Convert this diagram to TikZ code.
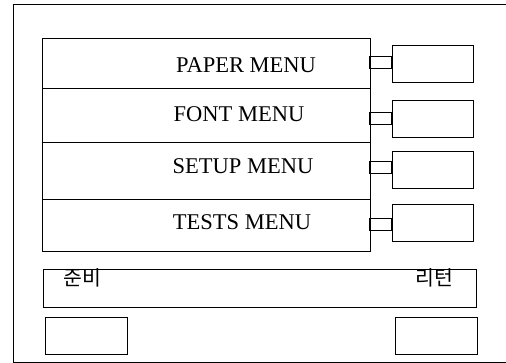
\documentclass[tikz,border=0pt]{standalone}
\usepackage{fontspec}
\setmainfont{Liberation Serif}
\newfontfamily\kofont{Noto Sans CJK KR}
\usetikzlibrary{positioning, calc}

\begin{document}
\begin{tikzpicture}[x=1pt, y=-1pt, line width=0.8pt,
    every node/.style={inner sep=0pt},
    rowbox/.style={draw, minimum width=328pt},
    sidebox/.style={draw, minimum width=81pt, minimum height=37pt},
    menutext/.style={font=\fontsize{22.5}{26}\selectfont},
    kotext/.style={font=\kofont\fontsize{20.5}{24}\selectfont}]
  \useasboundingbox (0,0) rectangle (506,363);

  %% Screen frame (open to the right)
  \draw (506,4) -- (13,4) -- (13,362) -- (506,362);

  %% Menu rows
  \node[rowbox, minimum height=50pt] (paper) at (206,63) {};
  \node[rowbox, minimum height=54pt] (fontrow) at (206,115) {};
  \node[rowbox, minimum height=57pt] (setup) at (206,170.5) {};
  \node[rowbox, minimum height=52pt] (tests) at (206,225) {};
  \node[menutext] (papertxt) at (246,65) {PAPER MENU};
  \node[menutext] (fonttxt) at (239,114) {FONT MENU};
  \node[menutext] (setuptxt) at (243,166) {SETUP MENU};
  \node[menutext] (teststxt) at (242,222) {TESTS MENU};

  %% Side boxes
  \node[sidebox] (paperbox) at (432.5,64) {};
  \node[sidebox] (fontbox) at (432.5,118.5) {};
  \node[sidebox] (setupbox) at (432.5,170) {};
  \node[sidebox] (testsbox) at (432.5,223) {};

  %% Connectors
  \foreach \b/\dy in {paperbox/-2, fontbox/0, setupbox/-3, testsbox/1}{
    \draw ($(\b.west)+(-22,\dy-6)$) rectangle ($(\b.west)+(0,\dy+6)$);
  }

  %% Status bar
  \node[draw, minimum width=433pt, minimum height=38pt] (status) at (259.5,288) {};
  \node[kotext, anchor=west] (ready) at (63,278) {준비};
  \node[kotext, anchor=east] (return) at (454,278) {리턴};

  %% Bottom buttons
  \node[draw, minimum width=82pt, minimum height=37pt] (readybtn) at (86,335.5) {};
  \node[draw, minimum width=82pt, minimum height=37pt] (returnbtn) at (436,335.5) {};
\end{tikzpicture}
\end{document}
